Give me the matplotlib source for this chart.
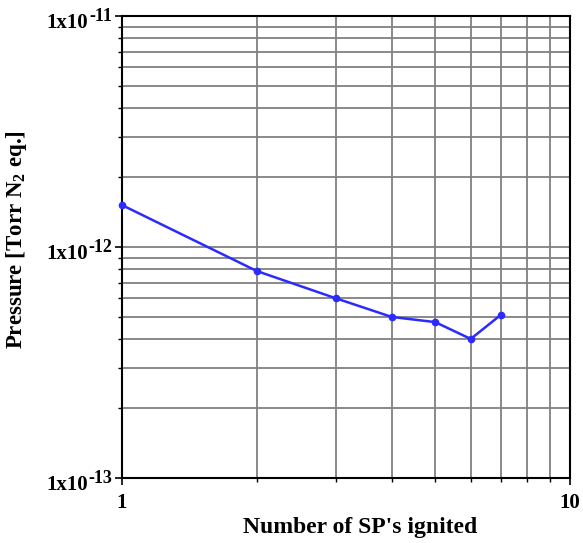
# Pressure vs number of SPs ignited
import matplotlib.pyplot as plt
from matplotlib.ticker import LogLocator, FixedLocator, NullFormatter

n_sp = [1, 2, 3, 4, 5, 6, 7]
pressure = [1.52e-12, 7.87e-13, 6.0e-13, 4.98e-13, 4.73e-13, 4.0e-13, 5.08e-13]

y_ticks = [1e-13, 1e-12, 1e-11]
y_exps = ["-13", "-12", "-11"]
x_ticks = [1, 10]
x_labels = ["1", "10"]

plt.rcParams["font.family"] = ["Liberation Serif", "DejaVu Serif"]
plt.rcParams["mathtext.fontset"] = "custom"
plt.rcParams["mathtext.rm"] = "Liberation Serif:bold"
plt.rcParams["mathtext.bf"] = "Liberation Serif:bold"
plt.rcParams["mathtext.default"] = "bf"

fig = plt.figure(figsize=(5.83, 5.43), dpi=100)
ax = fig.add_axes([0.209, 0.1197, 0.769, 0.8508])

ax.plot(n_sp, pressure, color="#2b2bff", lw=1.8, marker="o", ms=4.5, zorder=3, clip_on=False)

ax.set_xscale("log")
ax.set_yscale("log")
ax.set_xlim(1, 10)
ax.set_ylim(1e-13, 1e-11)

ax.xaxis.set_major_locator(FixedLocator(x_ticks))
ax.set_xticklabels(x_labels)
ax.yaxis.set_major_locator(FixedLocator(y_ticks))
ax.set_yticklabels([""] * len(y_ticks))
ax.xaxis.set_minor_locator(LogLocator(base=10, subs=range(2, 10)))
ax.yaxis.set_minor_locator(LogLocator(base=10, subs=range(2, 10)))
ax.xaxis.set_minor_formatter(NullFormatter())
ax.yaxis.set_minor_formatter(NullFormatter())

ax.grid(True, which="both", color="#808080", lw=1.3)
ax.set_axisbelow(True)

ax.tick_params(which="major", direction="out", length=5, width=1.2, labelsize=15)
ax.tick_params(axis="x", which="major", pad=6)
ax.tick_params(which="minor", direction="out", length=3, width=1)
for lab in ax.get_xticklabels():
    lab.set_fontweight("bold")

# y tick labels: "1x10" with a large hyphen exponent
for val, ex in zip(y_ticks, y_exps):
    ax.annotate(ex, xy=(0, val), xycoords=("axes fraction", "data"),
                xytext=(-10, -5), textcoords="offset pixels",
                ha="right", va="baseline", fontsize=13, fontweight="bold")
    ax.annotate("1x10", xy=(0, val), xycoords=("axes fraction", "data"),
                xytext=(-34, -11.5), textcoords="offset pixels",
                ha="right", va="baseline", fontsize=15, fontweight="bold")

for s in ax.spines.values():
    s.set_linewidth(1.5)
    s.set_color("black")

ax.set_xlabel("Number of SP's ignited", fontsize=17, fontweight="bold")
ax.xaxis.set_label_coords(0.531, -0.085)
ax.set_ylabel(r"Pressure [Torr N$_\mathbf{2}$ eq.]", fontsize=16.5, fontweight="bold")
ax.yaxis.set_label_coords(-0.208, 0.515)

fig.savefig("out.png", dpi=100)
